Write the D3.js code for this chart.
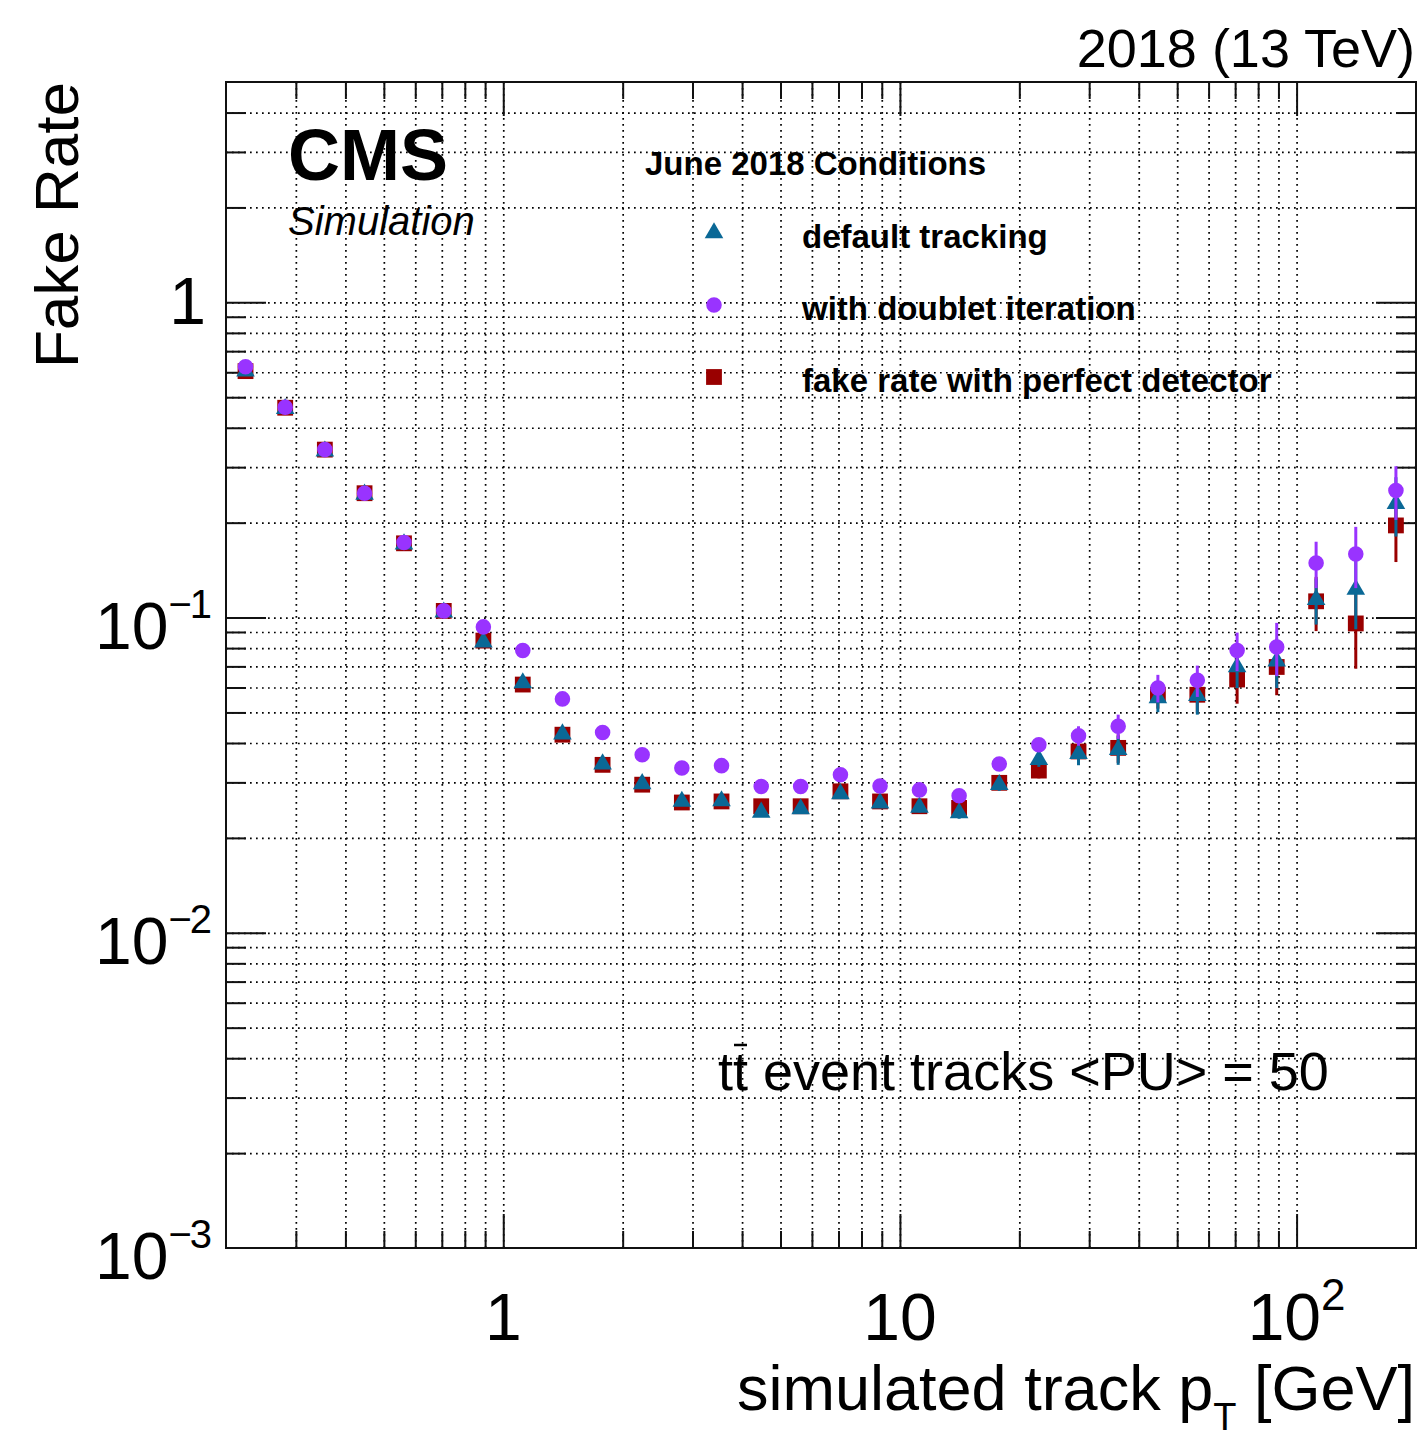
<!DOCTYPE html>
<html>
<head>
<meta charset="utf-8">
<script src="https://cdn.jsdelivr.net/npm/d3@7"></script>
<style>
  body { margin: 0; background: #fff; }
  svg { display: block; font-family: "Liberation Sans", Arial, Helvetica, sans-serif; }
</style>
</head>
<body>
<svg id="chart" width="1424" height="1441"></svg>
<script>
// bin centres in simulated track pT [GeV]
const ptBins = [0.224, 0.282, 0.355, 0.447, 0.562, 0.708, 0.891, 1.12, 1.41, 1.78,
                2.24, 2.82, 3.55, 4.47, 5.62, 7.08, 8.91, 11.2, 14.1, 17.8,
                22.4, 28.2, 35.5, 44.7, 56.2, 70.8, 89.1, 112, 141, 178];

// default tracking (blue triangles)
const defaultTracking = [0.605, 0.460, 0.337, 0.246, 0.171, 0.104, 0.0836, 0.0620, 0.0427, 0.0343,
                         0.0297, 0.0261, 0.0262, 0.0241, 0.0247, 0.0276, 0.0258, 0.0250, 0.0240, 0.0295,
                         0.0354, 0.0370, 0.0381, 0.0556, 0.0565, 0.0697, 0.0727, 0.114, 0.1228, 0.2297];
const defaultErr = [0.002, 0.0015, 0.001, 0.001, 0.0008, 0.0005, 0.0005, 0.0005, 0.0004, 0.0004,
                    0.0004, 0.0004, 0.0005, 0.0005, 0.0006, 0.0007, 0.0008, 0.0009, 0.001, 0.0013,
                    0.0018, 0.003, 0.004, 0.0055, 0.0073, 0.010, 0.013, 0.019, 0.031, 0.049];

// with doublet iteration (purple circles)
const doubletIter = [0.625, 0.465, 0.341, 0.248, 0.173, 0.105, 0.0934, 0.0786, 0.0552, 0.0432,
                     0.0367, 0.0333, 0.0339, 0.0291, 0.0291, 0.0317, 0.0292, 0.0284, 0.0272, 0.0343,
                     0.0395, 0.0422, 0.0452, 0.0598, 0.0632, 0.0786, 0.0807, 0.149, 0.159, 0.253];
const doubletErr = [0.002, 0.0015, 0.001, 0.001, 0.0008, 0.0005, 0.0005, 0.0005, 0.0004, 0.0004,
                    0.0004, 0.0004, 0.0005, 0.0005, 0.0006, 0.0007, 0.0008, 0.0009, 0.001, 0.0014,
                    0.002, 0.003, 0.004, 0.006, 0.0072, 0.011, 0.0155, 0.025, 0.035, 0.049];

// fake rate with perfect detector (red squares)
const perfectDet = [0.605, 0.463, 0.341, 0.248, 0.172, 0.105, 0.0845, 0.0613, 0.0425, 0.0341,
                    0.0295, 0.0259, 0.0261, 0.0252, 0.0252, 0.0281, 0.0261, 0.0252, 0.0249, 0.0299,
                    0.0327, 0.0376, 0.0386, 0.0569, 0.0569, 0.0636, 0.0697, 0.1126, 0.0958, 0.196];
const perfectErr = [0.002, 0.0015, 0.001, 0.001, 0.0008, 0.0005, 0.0005, 0.0005, 0.0004, 0.0004,
                    0.0004, 0.0004, 0.0005, 0.0005, 0.0006, 0.0007, 0.0008, 0.0009, 0.001, 0.0013,
                    0.0018, 0.003, 0.004, 0.0055, 0.007, 0.0103, 0.013, 0.022, 0.027, 0.046];

const xTickVals = [1, 10, 100];
const xTickLabels = [["1", ""], ["10", ""], ["10", "2"]];
const yTickVals = [0.001, 0.01, 0.1, 1];
const yTickLabels = [["10", "\u22123"], ["10", "\u22122"], ["10", "\u22121"], ["1", ""]];

const legendNames = ["default tracking", "with doublet iteration", "fake rate with perfect detector"];

const W = 1424, H = 1441;
const margin = {top: 82, right: 8, bottom: 193, left: 226};
const width = W - margin.left - margin.right;
const height = H - margin.top - margin.bottom;

const svg = d3.select("#chart");
svg.append("rect").attr("width", W).attr("height", H).attr("fill", "#fff");

const g = svg.append("g").attr("transform", `translate(${margin.left},${margin.top})`);

const x = d3.scaleLog().domain([0.2, 200]).range([0, width]);
const y = d3.scaleLog().domain([0.001, 5]).range([height, 0]);

// minor/major tick positions per decade
function logTicks(lo, hi) {
    const out = [];
    for (let e = -4; e <= 3; e++) {
        for (let k = 1; k <= 9; k++) {
            const v = +(k * Math.pow(10, e)).toPrecision(6);
            if (v > lo * 1.0001 && v < hi * 0.9999) out.push(v);
        }
    }
    return out;
}
const xAll = logTicks(0.2, 200);
const yAll = logTicks(0.001, 5);
const isMajor = v => Math.abs(Math.log10(v) - Math.round(Math.log10(v))) < 1e-6;

// grid
g.append("g").attr("class", "grid")
    .call(d3.axisBottom(x).tickValues(xAll).tickSize(height).tickFormat(""));
g.append("g").attr("class", "grid")
    .call(d3.axisLeft(y).tickValues(yAll).tickSize(-width).tickFormat(""));
g.selectAll(".grid .domain").remove();
g.selectAll(".grid line")
    .attr("stroke", "#000").attr("stroke-width", 1.7)
    .attr("stroke-dasharray", "1.7,4.3");

// ticks on all four sides
function tickAxis(axisFn, scale, vals, len, transform) {
    const a = g.append("g").attr("transform", transform)
        .call(axisFn(scale).tickValues(vals).tickSizeInner(len).tickSizeOuter(0).tickFormat(""));
    a.select(".domain").remove();
    a.selectAll("line").attr("stroke", "#111").attr("stroke-width", 2);
}
const xMaj = xAll.filter(isMajor), xMin = xAll.filter(v => !isMajor(v));
const yMaj = yAll.filter(isMajor), yMin = yAll.filter(v => !isMajor(v));
tickAxis(d3.axisBottom, x, xMaj, -34, `translate(0,${height})`);
tickAxis(d3.axisBottom, x, xMin, -17, `translate(0,${height})`);
tickAxis(d3.axisTop, x, xMaj, -34, `translate(0,0)`);
tickAxis(d3.axisTop, x, xMin, -17, `translate(0,0)`);
tickAxis(d3.axisLeft, y, yMaj, -40, `translate(0,0)`);
tickAxis(d3.axisLeft, y, yMin, -20, `translate(0,0)`);
tickAxis(d3.axisRight, y, yMaj, -40, `translate(${width},0)`);
tickAxis(d3.axisRight, y, yMin, -20, `translate(${width},0)`);

// frame
g.append("rect").attr("width", width).attr("height", height)
    .attr("fill", "none").attr("stroke", "#111").attr("stroke-width", 2);

// tick labels
xTickVals.forEach((v, i) => {
    const t = svg.append("text")
        .attr("x", margin.left + x(v)).attr("y", 1340)
        .attr("text-anchor", "middle").attr("font-size", 66).attr("fill", "#000")
        .text(xTickLabels[i][0]);
    if (xTickLabels[i][1]) {
        t.append("tspan").attr("dy", -30).attr("font-size", 44).text(xTickLabels[i][1]);
    }
});
yTickVals.forEach((v, i) => {
    const sup = yTickLabels[i][1];
    const t = svg.append("text")
        .attr("x", sup ? 210 : 206).attr("y", margin.top + y(v) + (sup ? 31 : 22))
        .attr("text-anchor", "end").attr("font-size", 66).attr("fill", "#000")
        .text(yTickLabels[i][0]);
    if (sup) t.append("tspan").attr("dy", -31).attr("font-size", 40).attr("letter-spacing", -2).text(sup);
});

// axis titles
svg.append("text")
    .attr("transform", "rotate(-90)")
    .attr("x", -82).attr("y", 78)
    .attr("text-anchor", "end").attr("font-size", 62)
    .text("Fake Rate");
const xt = svg.append("text")
    .attr("x", 1415).attr("y", 1410)
    .attr("text-anchor", "end").attr("font-size", 63)
    .text("simulated track p");
xt.append("tspan").attr("dy", 20).attr("font-size", 38).text("T");
xt.append("tspan").attr("dy", -20).text(" [GeV]");

// series: drawn red, blue, purple (purple on top)
const series = [
    {vals: perfectDet, err: perfectErr, color: "#990000", shape: d3.symbolSquare, size: 250},
    {vals: defaultTracking, err: defaultErr, color: "#0a6896", shape: d3.symbolTriangle, size: 150},
    {vals: doubletIter, err: doubletErr, color: "#9933ff", shape: d3.symbolCircle, size: 190}
];

series.forEach(s => {
    const pts = ptBins.map((p, i) => ({p: p, v: s.vals[i], e: s.err[i]}));
    const sg = g.append("g");
    sg.selectAll("line.err").data(pts).join("line")
        .attr("class", "err")
        .attr("x1", d => x(d.p)).attr("x2", d => x(d.p))
        .attr("y1", d => y(d.v + d.e)).attr("y2", d => y(Math.max(d.v - d.e, 1e-4)))
        .attr("stroke", s.color).attr("stroke-width", 3);
    sg.selectAll("path.mk").data(pts).join("path")
        .attr("class", "mk")
        .attr("transform", d => `translate(${x(d.p)},${y(d.v)})`)
        .attr("d", d3.symbol().type(s.shape).size(s.size))
        .attr("fill", s.color);
});

// CMS label
svg.append("text").attr("x", 288).attr("y", 180)
    .attr("font-size", 72).attr("font-weight", "bold").text("CMS");
svg.append("text").attr("x", 288).attr("y", 235)
    .attr("font-size", 40).attr("font-style", "italic").text("Simulation");
svg.append("text").attr("x", 1415).attr("y", 67)
    .attr("text-anchor", "end").attr("font-size", 54).text("2018 (13 TeV)");

// legend
svg.append("text").attr("x", 645).attr("y", 175)
    .attr("font-size", 33).attr("font-weight", "bold").text("June 2018 Conditions");
const legendRows = [
    {s: series[1], y: 233},
    {s: series[2], y: 305},
    {s: series[0], y: 377}
];
legendRows.forEach((r, i) => {
    svg.append("path")
        .attr("transform", `translate(714,${r.y})`)
        .attr("d", d3.symbol().type(r.s.shape).size(r.s.size))
        .attr("fill", r.s.color);
    svg.append("text").attr("x", 802).attr("y", r.y + 15)
        .attr("font-size", 33).attr("font-weight", "bold").text(legendNames[i]);
});

// ttbar annotation with bar over second t
const tt = svg.append("text").attr("x", 718).attr("y", 1090)
    .attr("font-size", 54).text("tt event tracks <PU> = 50");
const node = tt.node();
const s1 = node.getStartPositionOfChar(1), e1 = node.getEndPositionOfChar(1);
svg.append("line")
    .attr("x1", s1.x + 1).attr("x2", e1.x - 1)
    .attr("y1", 1045).attr("y2", 1045)
    .attr("stroke", "#000").attr("stroke-width", 2.5);
</script>
</body>
</html>
